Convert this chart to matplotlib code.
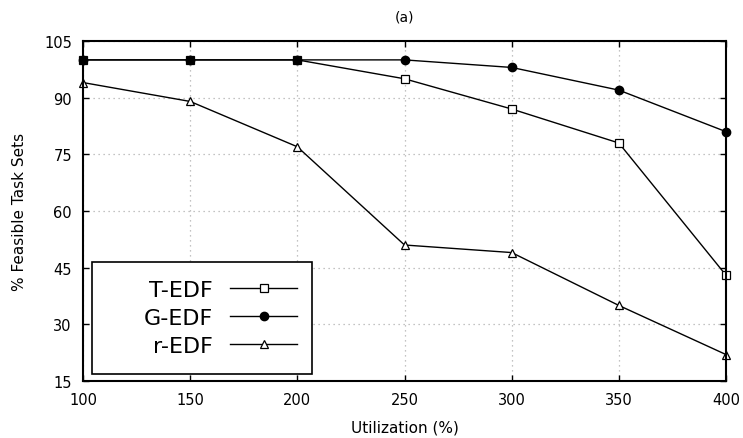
import matplotlib.pyplot as plt
from matplotlib.patches import Rectangle

utilization = [100, 150, 200, 250, 300, 350, 400]
t_edf = [100, 100, 100, 95, 87, 78, 43]
g_edf = [100, 100, 100, 100, 98, 92, 81]
r_edf = [94, 89, 77, 51, 49, 35, 22]
y_ticks = [15, 30, 45, 60, 75, 90, 105]

fig = plt.figure(figsize=(7.43, 4.39), dpi=100)
ax = fig.add_axes([83 / 743, 1 - 382 / 439, 643 / 743, 340 / 439])

ax.plot(utilization, t_edf, color='black', lw=1, marker='s', ms=5.5,
        mfc='white', mec='black', mew=0.9, label='T-EDF', clip_on=False)
ax.plot(utilization, g_edf, color='black', lw=1, marker='o', ms=6,
        mfc='black', mec='black', label='G-EDF', clip_on=False)
ax.plot(utilization, r_edf, color='black', lw=1, marker='^', ms=5.5,
        mfc='white', mec='black', mew=0.9, label='r-EDF', clip_on=False)

ax.set_xlim(100, 400)
ax.set_ylim(15, 105)
ax.set_xticks(utilization)
ax.set_yticks(y_ticks)
ax.grid(True, color='#b0b0b0', linestyle=(0, (1, 3)), lw=0.9)
ax.tick_params(direction='in', top=True, right=True, length=4.5, width=1,
               labelsize=10.5, pad=8)
for s in ax.spines.values():
    s.set_linewidth(1.5)

ax.set_xlabel('Utilization (%)', fontsize=11, labelpad=9)
ax.set_ylabel('% Feasible Task Sets', fontsize=11, labelpad=12.5)
ax.set_title('(a)', fontsize=10, pad=14.5)

# legend box drawn separately so it can be wider than its contents
box = Rectangle((9 / 643, 7 / 340), 220 / 643, 112 / 340, transform=ax.transAxes,
                facecolor='white', edgecolor='black', lw=1.2, zorder=4.5)
ax.add_patch(box)
ax.legend(loc='center right', bbox_to_anchor=(214 / 643, 63 / 340),
          fontsize=16, markerfirst=False, handlelength=3.0, frameon=False,
          borderaxespad=0, borderpad=0, labelspacing=0.37, handletextpad=0.77)

fig.savefig('out.png', dpi=100)
